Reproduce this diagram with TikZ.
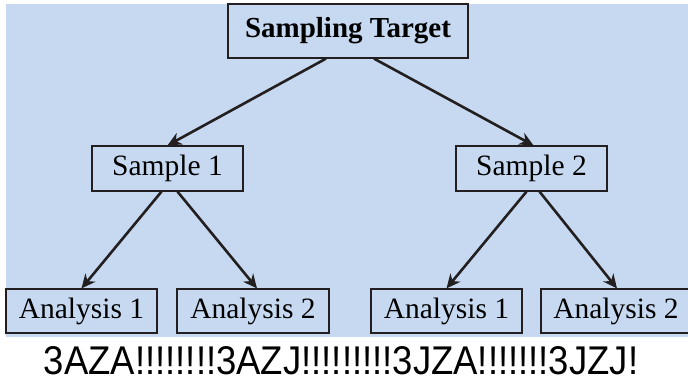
\documentclass[tikz,border=0pt]{standalone}
\usepackage{fontspec}
\setmainfont{Liberation Serif}
\newfontfamily\capfont{Liberation Sans}
\usetikzlibrary{arrows.meta}
\definecolor{bgblue}{HTML}{C6D9F0}
\definecolor{ink}{HTML}{231F20}
\begin{document}
\begin{tikzpicture}[x=1pt,y=-1pt,
  box/.style={draw=ink,line width=1.2pt,fill=bgblue,inner sep=0pt,font=\fontsize{29.5}{31}\selectfont},
  arr/.style={draw=ink,line width=2.6pt,-{Stealth[length=14pt,width=13pt]}}]
\useasboundingbox (0,0) rectangle (688,381);
\fill[bgblue] (6,4) rectangle (688,337);
\node[box,minimum width=240pt,minimum height=54pt,font=\fontsize{29}{31}\selectfont\bfseries] (top) at (348,31) {Sampling Target};
\node[box,minimum width=151pt,minimum height=45pt] (s1) at (167.5,168.5) {Sample 1};
\node[box,minimum width=151pt,minimum height=45pt] (s2) at (531.5,168.5) {Sample 2};
\node[box,minimum width=151pt,minimum height=44pt] (a11) at (81.5,311) {Analysis 1};
\node[box,minimum width=152pt,minimum height=44pt] (a12) at (253,311) {Analysis 2};
\node[box,minimum width=151pt,minimum height=44pt] (a21) at (446.5,311) {Analysis 1};
\node[box,minimum width=150pt,minimum height=44pt] (a22) at (616,311) {Analysis 2};
\draw[arr] ([xshift=-22pt]top.south) -- ([xshift=0pt]s1.north);
\draw[arr] ([xshift=26pt]top.south) -- ([xshift=2pt]s2.north);
\draw[arr] ([xshift=-6pt]s1.south) -- (a11.north);
\draw[arr] ([xshift=10pt]s1.south) -- ([xshift=4pt]a12.north);
\draw[arr] ([xshift=-5pt]s2.south) -- (a21.north);
\draw[arr] ([xshift=8pt]s2.south) -- ([xshift=1pt]a22.north);
\node[inner sep=0pt] (cap) at (341,360.5) {\resizebox{594pt}{28pt}{\capfont 3AZA!!!!!!!!3AZJ!!!!!!!!!3JZA!!!!!!!3JZJ!}};
\end{tikzpicture}
\end{document}
